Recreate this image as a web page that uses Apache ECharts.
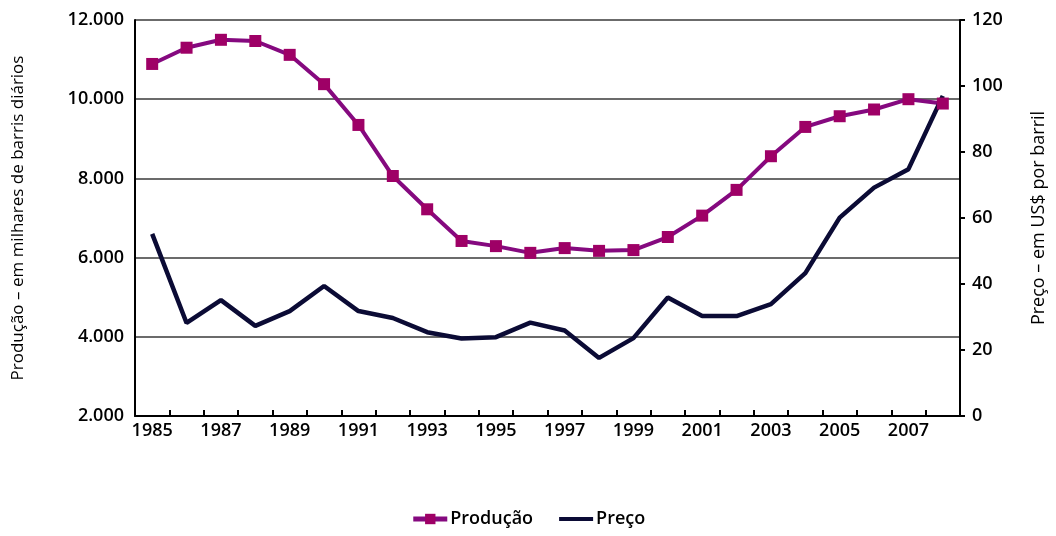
<!DOCTYPE html>
<html>
<head>
<meta charset="utf-8">
<script src="https://cdn.jsdelivr.net/npm/echarts@6/dist/echarts.min.js"></script>
<style>
  html, body { margin: 0; padding: 0; background: #fff; }
  #chart { width: 1056px; height: 536px; }
</style>
</head>
<body>
<div id="chart"></div>
<script>
const years = ['1985','1986','1987','1988','1989','1990','1991','1992','1993','1994','1995','1996',
  '1997','1998','1999','2000','2001','2002','2003','2004','2005','2006','2007','2008']
// thousand barrels per day
const producao = [10890, 11300, 11500, 11470, 11120, 10380, 9350, 8060, 7220, 6420, 6290, 6120,
  6240, 6170, 6190, 6520, 7060, 7710, 8560, 9300, 9570, 9740, 10000, 9890]
// US$ per barrel
const preco = [55.2, 28.2, 35.1, 27.3, 31.8, 39.4, 31.8, 29.7, 25.4, 23.5, 23.9, 28.3,
  25.9, 17.6, 23.6, 35.9, 30.3, 30.3, 33.9, 43.3, 60.1, 69.2, 74.8, 97.0]

const font = 'Open Sans'
const fmtThousands = v => v.toLocaleString('de-DE')

const chart = echarts.init(document.getElementById('chart'))
chart.setOption({
  backgroundColor: '#fff',
  textStyle: { fontFamily: font, color: '#000' },
  animation: false,
  grid: { left: 135, right: 90, top: 20, bottom: 120 },
  legend: {
    bottom: 3, left: 'center', itemGap: 26, itemWidth: 34, itemHeight: 13,
    textStyle: { fontFamily: font, fontSize: 18, fontWeight: 600, color: '#000', padding: [0, 0, 0, -2] },
    data: [
      { name: 'Produção', lineStyle: { width: 5 } },
      { name: 'Preço', icon: 'path://M0,0 L34,0 L34,4 L0,4 Z' }
    ]
  },
  xAxis: {
    type: 'category', data: years, boundaryGap: true,
    axisLine: { lineStyle: { color: '#000', width: 2 } },
    axisTick: { show: true, inside: true, length: 6, interval: 0, lineStyle: { color: '#000', width: 2 } },
    axisLabel: { interval: 1, fontSize: 18, fontWeight: 600, color: '#000', margin: 6 }
  },
  yAxis: [
    {
      type: 'value', min: 2000, max: 12000, interval: 2000, position: 'left',
      name: 'Produção – em milhares de barris diários', nameLocation: 'middle', nameGap: 108,
      nameTextStyle: { fontSize: 17, color: '#000' },
      axisLine: { show: true, lineStyle: { color: '#000', width: 2 } },
      axisTick: { show: false },
      axisLabel: { fontSize: 18, fontWeight: 600, color: '#000', margin: 11, formatter: fmtThousands },
      splitLine: { lineStyle: { color: '#3a3a3a', width: 1.5 } }
    },
    {
      type: 'value', min: 0, max: 120, interval: 20, position: 'right',
      name: 'Preço – em US$ por barril', nameLocation: 'middle', nameGap: 70,
      nameTextStyle: { fontSize: 18, color: '#000' },
      axisLine: { show: true, lineStyle: { color: '#000', width: 2 } },
      axisTick: { show: true, length: 5, lineStyle: { color: '#000', width: 2 } },
      axisLabel: { fontSize: 18, fontWeight: 600, color: '#000', margin: 12 },
      splitLine: { show: false }
    }
  ],
  series: [
    {
      name: 'Produção', type: 'line', yAxisIndex: 0, data: producao,
      symbol: 'rect', symbolSize: 12, showAllSymbol: true,
      lineStyle: { color: '#85097F', width: 4 },
      itemStyle: { color: '#9E0066' }
    },
    {
      name: 'Preço', type: 'line', yAxisIndex: 1, data: preco,
      symbol: 'none',
      lineStyle: { color: '#0B0B35', width: 4.5 },
      itemStyle: { color: '#0B0B35' }
    }
  ]
})
</script>
</body>
</html>
